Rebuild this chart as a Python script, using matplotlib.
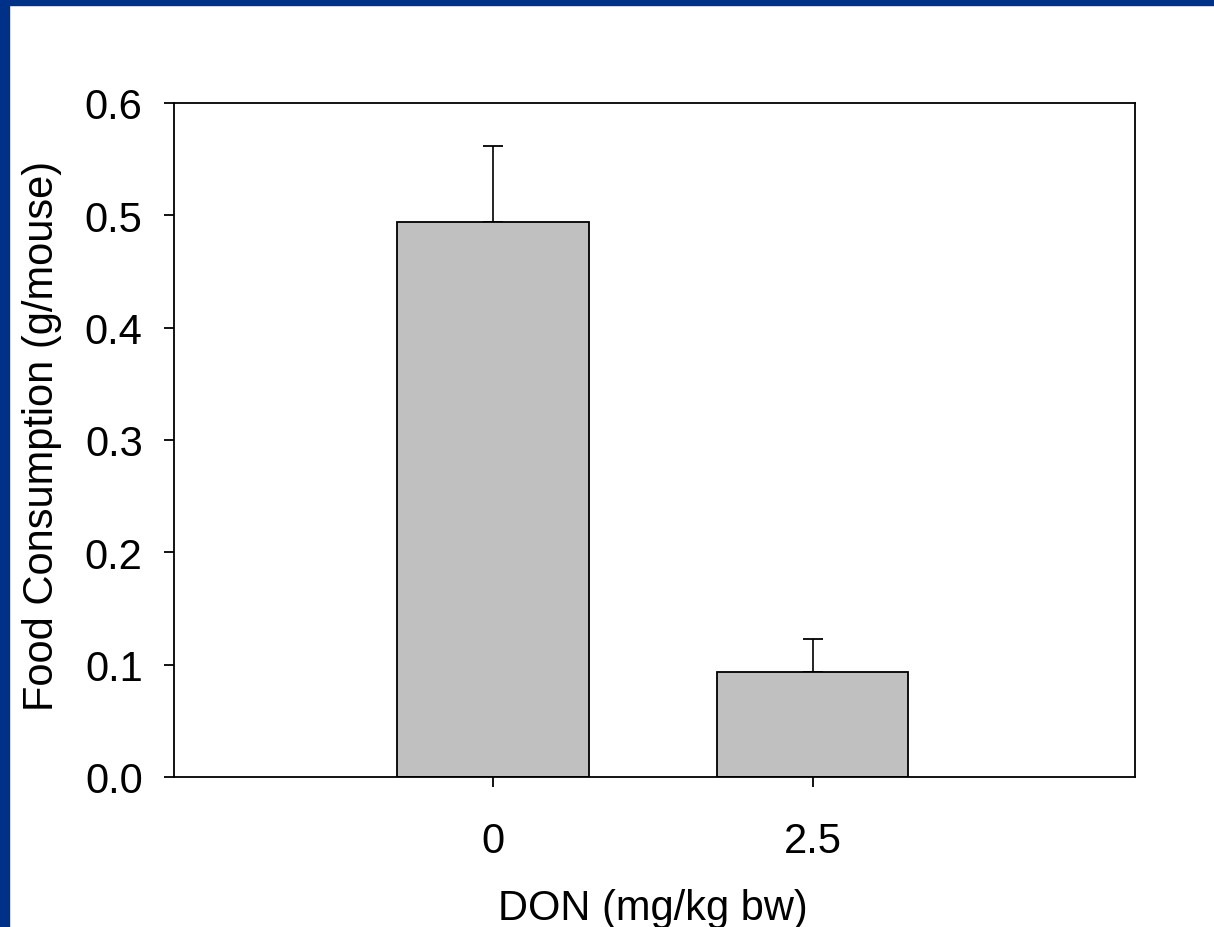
import numpy as np
import matplotlib.pyplot as plt
from matplotlib.patches import Rectangle

plt.rcParams['font.family'] = ['Liberation Sans', 'DejaVu Sans']

doses = ['0', '2.5']
consumption = [0.494, 0.0935]
sem = [0.068, 0.029]

fig = plt.figure(figsize=(12.14, 9.28), dpi=100)
ax = fig.add_axes([174/1214, 1 - 778/928, (1135-174)/1214, (778-104)/928])

x = np.arange(len(doses))
ax.bar(x, consumption, width=0.6, color='#c0c0c0', edgecolor='black', linewidth=1.3, zorder=2)
ax.errorbar(x, consumption, yerr=[np.zeros(len(sem)), sem], fmt='none',
            ecolor='black', elinewidth=1.2, capsize=7.2, capthick=1.3, zorder=1)

ax.set_xlim(-1, 2.01)
ax.set_ylim(0, 0.6)
ax.set_xticks(x)
ax.set_xticklabels(doses)
ax.set_yticks(np.arange(0, 0.61, 0.1))
ax.set_yticklabels([f'{v:.1f}' for v in np.arange(0, 0.61, 0.1)])
ax.tick_params(direction='out', length=7.5, width=1.3, labelsize=30)
ax.tick_params(axis='y', pad=15)
ax.tick_params(axis='x', pad=24)
for s in ax.spines.values():
    s.set_linewidth(1.3)

ax.set_xlabel('DON (mg/kg bw)', fontsize=30)
ax.xaxis.set_label_coords(0.4985, (778 - 889) / 674)
ax.set_ylabel('Food Consumption (g/mouse)', fontsize=30)
ax.yaxis.set_label_coords(-0.117, 0.508)

# blue frame strips on top and left
fig.patches.append(Rectangle((0, 1 - 6/928), 1, 6/928, transform=fig.transFigure,
                             color='#003189', zorder=10))
fig.patches.append(Rectangle((0, 0), 8.5/1214, 1, transform=fig.transFigure,
                             color='#003189', zorder=10))

fig.savefig('out.png', dpi=100)
